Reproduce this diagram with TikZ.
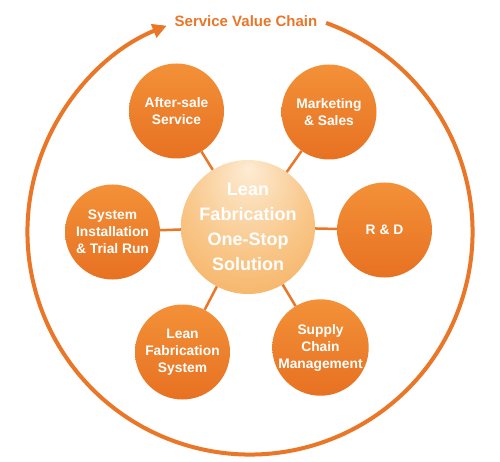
\documentclass[tikz,border=0pt]{standalone}
\usepackage{fontspec}
\setmainfont{Liberation Sans}
\usetikzlibrary{arrows.meta,shadings}
\definecolor{chainor}{RGB}{234,118,40}
\definecolor{sattop}{RGB}{243,145,56}
\definecolor{satbot}{RGB}{231,113,34}
\definecolor{cA}{RGB}{253,236,212}
\definecolor{cB}{RGB}{249,200,140}
\definecolor{cC}{RGB}{243,160,66}
\pgfdeclareradialshading{ctrshade}{\pgfpoint{0bp}{22bp}}{color(0bp)=(cA); color(22bp)=(cB); color(52bp)=(cC); color(60bp)=(cC)}
\tikzset{
  sat/.style={circle, minimum size=95pt, inner sep=0pt, top color=sattop, bottom color=satbot,
    text=white, font=\fontsize{13.8}{17}\selectfont\bfseries, align=center},
  ctrbox/.style={circle, minimum size=134pt, inner sep=0pt, shading=ctrshade,
    text=white, font=\fontsize{18}{25}\selectfont\bfseries, align=center},
  link/.style={draw=chainor, line width=2.5pt},
  chain/.style={draw=chainor, line width=4pt, -{Triangle[length=14pt,width=14pt]}}
}
\begin{document}
\begin{tikzpicture}[x=1pt,y=1pt]
\useasboundingbox (0,0) rectangle (500,461);
\fill[white] (0,0) rectangle (500,461);
\coordinate (ring) at (250,229);
\node[ctrbox] (ctr) at (248,234) {Lean\\Fabrication\\One-Stop\\Solution};
\node[sat] (as) at (176.5,350) {After-sale\\Service};
\node[sat] (ms) at (329,349) {Marketing\\\& Sales};
\node[sat] (rd) at (384.5,231) {R \& D};
\node[sat] (si) at (112.5,229) {System\\Installation\\\& Trial Run};
\node[sat] (lf) at (182.5,109) {Lean\\Fabrication\\System};
\node[sat] (sc) at (320.5,113.5) {Supply\\Chain\\Management};
\foreach \s in {as,ms,rd,si,lf,sc} \draw[link] (ctr) -- (\s);
\draw[chain] ([shift={(70:222.5)}]ring) arc[start angle=70, end angle=-248, radius=222.5];
\node[text=chainor, font=\fontsize{15}{18}\selectfont\bfseries] (title) at (246,440) {Service Value Chain};
\end{tikzpicture}
\end{document}
